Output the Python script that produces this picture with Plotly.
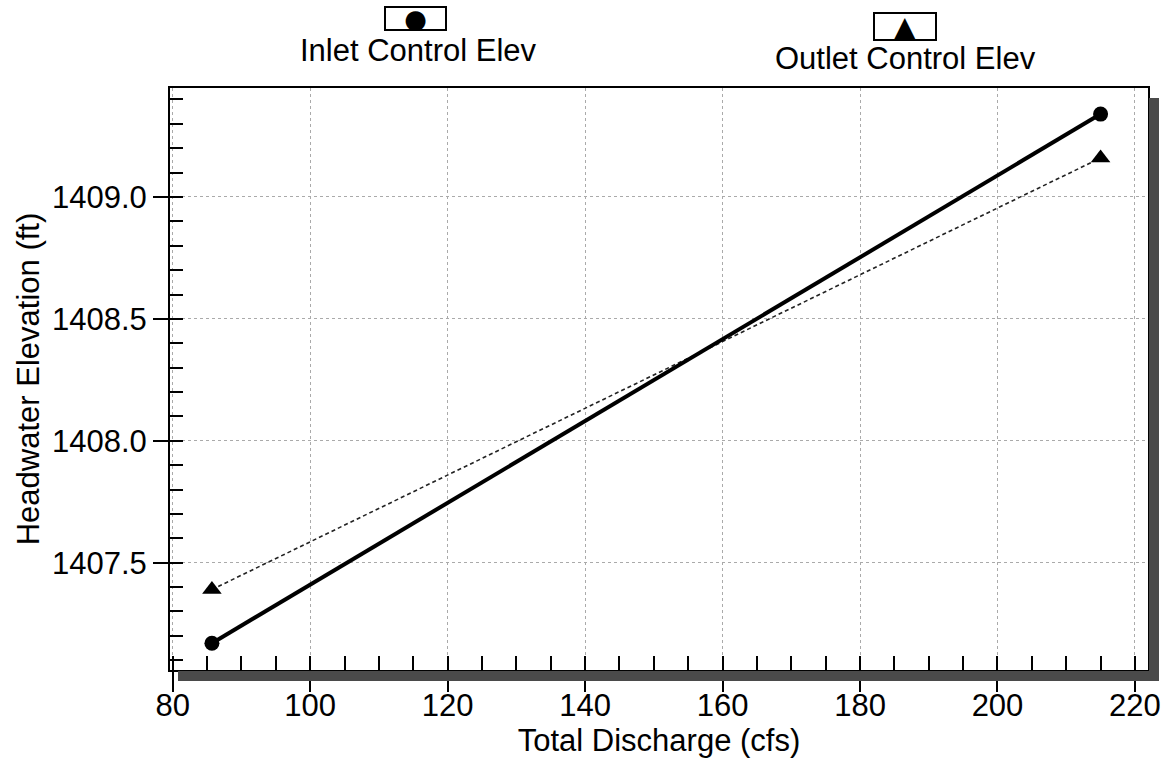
import plotly.graph_objects as go

# ---- data ----
discharge = [85.7, 215.0]
inlet_elev = [1407.17, 1409.34]
outlet_elev = [1407.39, 1409.16]
x_ticks = [80, 100, 120, 140, 160, 180, 200, 220]
y_ticks = [1407.5, 1408.0, 1408.5, 1409.0]
y_tick_text = ["1407.5", "1408.0", "1408.5", "1409.0"]

W, H = 1165, 768
L, R, T, B = 170, 17, 88, 98
PW, PH = W - L - R, H - T - B
FONT = "Liberation Sans, Arial, sans-serif"


def px(xpix):
    return (xpix - L) / PW


def py(ypix):
    return (H - B - ypix) / PH


fig = go.Figure()
fig.add_trace(go.Scatter(
    x=discharge, y=outlet_elev, mode="lines+markers", name="Outlet Control Elev",
    line=dict(color="#222222", width=1.6, dash="4px,3px"),
    marker=dict(symbol="triangle-up", size=17, color="black"),
))
fig.add_trace(go.Scatter(
    x=discharge, y=inlet_elev, mode="lines+markers", name="Inlet Control Elev",
    line=dict(color="black", width=4),
    marker=dict(symbol="circle", size=15, color="black"),
))

fig.update_layout(
    width=W, height=H,
    margin=dict(l=L, r=R, t=T, b=B, autoexpand=False),
    paper_bgcolor="white", plot_bgcolor="white",
    showlegend=False,
    font=dict(family=FONT, size=31, color="black"),
)

fig.update_xaxes(
    automargin=False,
    range=[79.6, 221.9], tickvals=x_ticks, ticktext=[str(v) for v in x_ticks],
    ticks="outside", ticklen=20, tickwidth=2, tickcolor="black",
    ticklabelstandoff=-13,
    showline=True, linecolor="black", linewidth=2, mirror=True,
    showgrid=True, gridcolor="#aaaaaa", gridwidth=1, griddash="dot",
    zeroline=False,
    minor=dict(dtick=5, tick0=80, ticks="inside", ticklen=14, tickwidth=2,
               tickcolor="black", showgrid=False),
    tickfont=dict(size=31),
    title=dict(text="Total Discharge (cfs)", font=dict(size=31), standoff=4),
)
fig.update_yaxes(
    automargin=False,
    range=[1407.06, 1409.447], tickvals=y_ticks, ticktext=y_tick_text,
    ticks="outside", ticklen=15, tickwidth=2, tickcolor="black",
    showline=True, linecolor="black", linewidth=2, mirror=True,
    showgrid=True, gridcolor="#aaaaaa", gridwidth=1, griddash="dot",
    zeroline=False,
    minor=dict(dtick=0.1, tick0=1407.0, ticks="inside", ticklen=13, tickwidth=2,
               tickcolor="black", showgrid=False),
    tickfont=dict(size=31),
    title=dict(text="Headwater Elevation (ft)", font=dict(size=31), standoff=3),
)

# drop shadow along the bottom and right of the plot frame (one L-shaped path)
sh = 10
shadow_col = "#4a4a4a"
xl, xr0, xr1 = px(L + 8), px(W - R + 1), px(W - R + 1 + sh)
yb1, yb0, yt = py(H - B + 1 + sh), py(H - B + 1), py(T + 10)
path = (f"M {xl},{yb0} L {xr0},{yb0} L {xr0},{yt} L {xr1},{yt} "
        f"L {xr1},{yb1} L {xl},{yb1} Z")
fig.add_shape(type="path", xref="paper", yref="paper", layer="above",
              path=path, line=dict(width=0), fillcolor=shadow_col)

# custom legend: boxed symbol above label
legend_items = [
    ("●", "Inlet Control Elev", 415, 19, 63, 25, 418, 50, 26),
    ("▲", "Outlet Control Elev", 905, 27, 64, 29, 905, 59, 28),
]
for sym, label, bx, by, bw, bh, tx, ty, ssize in legend_items:
    fig.add_annotation(xref="paper", yref="paper", x=px(bx), y=py(by),
                       text=sym, showarrow=False, width=bw - 4, height=bh - 4,
                       borderpad=0, bordercolor="black", borderwidth=2,
                       font=dict(family="DejaVu Sans", size=ssize, color="black"),
                       xanchor="center", yanchor="middle")
    fig.add_annotation(xref="paper", yref="paper", x=px(tx), y=py(ty),
                       text=label, showarrow=False,
                       font=dict(family=FONT, size=31, color="black"),
                       xanchor="center", yanchor="middle")

fig.write_html(
    "out.html",
    config={"displayModeBar": False},
    post_script="document.body.style.margin='0';document.body.style.overflow='hidden';",
)
